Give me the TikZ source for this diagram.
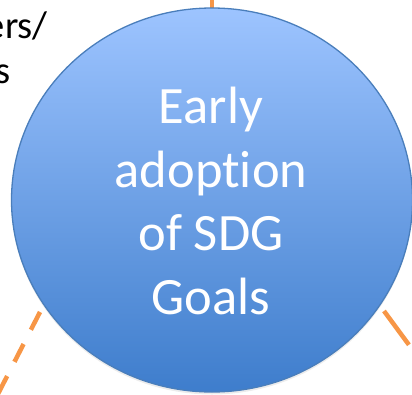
\documentclass[tikz,border=0pt]{standalone}
\usepackage{fontspec}
\setmainfont{Carlito}[Ligatures=NoCommon]
\usetikzlibrary{shapes.geometric,shadows}

\definecolor{goalTop}{RGB}{157,196,255}
\definecolor{goalBot}{RGB}{62,125,204}
\definecolor{goalRim}{RGB}{74,126,187}
\definecolor{linkOrange}{RGB}{247,150,70}

\begin{document}
\begin{tikzpicture}[x=1pt, y=-1pt]
	\tikzstyle{Goal}	= [ellipse, draw=goalRim, line width=1.3pt, top color=goalTop, bottom color=goalBot,
						   minimum width=401pt, minimum height=384pt, inner sep=0pt,
						   drop shadow={shadow xshift=0pt, shadow yshift=-2.5pt, opacity=.15}]
	\tikzstyle{GoalText}	= [text=white, align=center, font=\fontsize{52.5}{63.5}\selectfont]
	\tikzstyle{Side}	= [text=black, inner sep=0pt, font=\fontsize{38.5}{46}\selectfont]
	\tikzstyle{Link}	= [linkOrange, line width=4.5pt]

	\useasboundingbox (0,0) rectangle (412,394);

	% connector ends, the far ones lie off the page
	\coordinate (tin) at (212,8);
	\coordinate (tout) at (212,-60);
	\coordinate (lin) at (40,312);
	\coordinate (lout) at (-40,468);
	\coordinate (rin) at (384,311);
	\coordinate (rout) at (440,387);

	\draw [Link, dash pattern=on 20pt off 16pt] (tin) -- (tout);
	\draw [Link, dash pattern=on 20pt off 16pt] (lin) -- (lout);
	\draw [Link, dash pattern=on 42pt off 16pt] (rin) -- (rout);

	\node (sdg) at (212,200) [Goal] {};
	\node (sdgtxt) at (211,201) [GoalText] {Early\\adoption\\of SDG\\Goals};

	% neighbour label, cut by the page edge
	\node (nb1) at (48,38) [Side, anchor=base east] {ers/};
	\node (nb2) at (11,83) [Side, anchor=base east] {s};
\end{tikzpicture}
\end{document}
